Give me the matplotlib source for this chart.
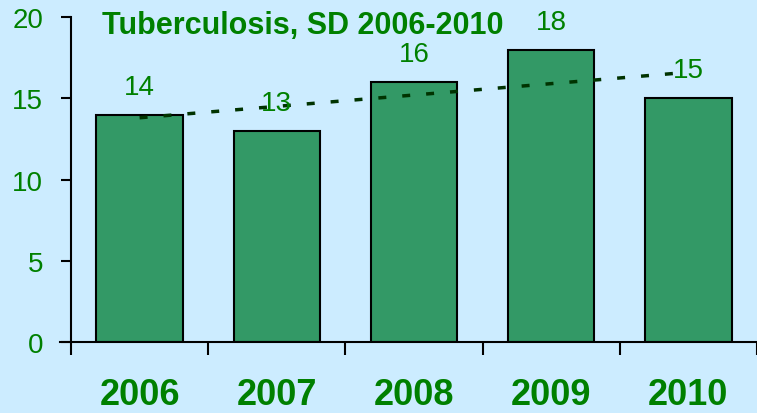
import matplotlib
matplotlib.use("Agg")
import matplotlib.pyplot as plt
import numpy as np

_BG   = "#ccecff"
_BAR  = "#339966"
_TXT  = "#008000"
_TRND = "#003300"

years  = ["2006", "2007", "2008", "2009", "2010"]
counts = [14, 13, 16, 18, 15]
title  = "Tuberculosis, SD 2006-2010"

plt.rcParams["font.family"] = ["Liberation Sans", "DejaVu Sans"]

fig = plt.figure(figsize=(7.57, 4.14), dpi=100, facecolor=_BG)
ax = fig.add_axes([0.0938, 0.1715, 0.9062, 0.785])
ax.set_facecolor(_BG)

x = np.arange(len(years))
ax.bar(x, counts, width=0.63, color=_BAR, edgecolor="black", linewidth=1.5, zorder=2)

# linear trend line
slope, icpt = np.polyfit(x, counts, 1)
ax.plot(x, slope * x + icpt, color=_TRND, linewidth=2.5, linestyle=(0, (2.3, 4.6)), zorder=3)

for xi, v in zip(x, counts):
    ax.annotate(str(v), (xi, v), xytext=(0, 28), textcoords="offset pixels",
                ha="center", va="center", fontsize=20, color=_TXT, zorder=4)

ax.set_xlim(-0.5, 4.5)
ax.set_ylim(0, 20)
ax.set_yticks([0, 5, 10, 15, 20])
ax.set_xticks(x)
ax.set_xticklabels(years)
ax.set_xticks(np.arange(-0.5, 5, 1), minor=True)

ax.tick_params(axis="y", direction="out", length=7, width=1.5, pad=13,
               labelsize=20, labelcolor=_TXT, color="black")
ax.tick_params(axis="x", which="major", length=0, pad=25,
               labelsize=26, labelcolor=_TXT)
ax.tick_params(axis="x", which="minor", direction="out", length=9, width=1.5, color="black")
for lbl in ax.get_xticklabels():
    lbl.set_fontweight("bold")

for s in ("top", "right"):
    ax.spines[s].set_visible(False)
for s in ("left", "bottom"):
    ax.spines[s].set_linewidth(1.5)
    ax.spines[s].set_color("black")
ax.spines["bottom"].set_bounds(-0.58, 4.5)

ax.text(0.338, 0.975, title, transform=ax.transAxes, ha="center", va="center",
        fontsize=22, fontweight="bold", color=_TXT)

fig.savefig("out.png", dpi=100, facecolor=fig.get_facecolor())
